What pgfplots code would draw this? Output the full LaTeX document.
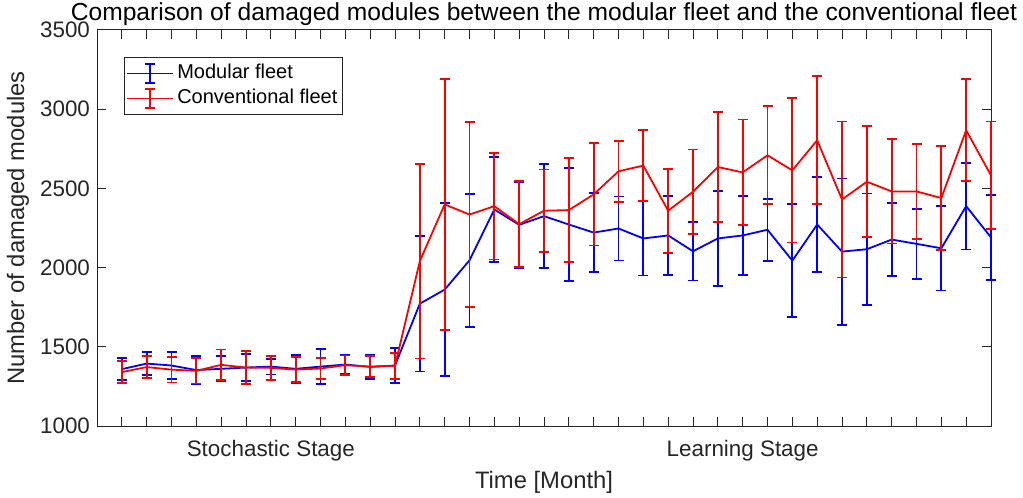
\documentclass[border=0pt]{standalone}
\usepackage{fontspec}
\setmainfont{Liberation Sans}
\usepackage{pgfplots}
\pgfplotsset{compat=1.18}
\usepackage{pgfplotstable}
\usetikzlibrary{calc}

\pgfplotstableread{
x y e
1 1359 68
2 1394 71
3 1382 86
4 1353 90
5 1361 80
6 1369 85
7 1375 50
8 1361 87
9 1375 112
10 1388 62
11 1373 78
12 1382 111
13 1772 428
14 1861 546
15 2046 421
16 2367 332
17 2270 271
18 2325 330
19 2272 357
20 2221 249
21 2247 202
22 2184 234
23 2203 250
24 2103 184
25 2184 302
26 2203 251
27 2239 195
28 2044 355
29 2272 298
30 2101 461
31 2116 352
32 2177 229
33 2150 222
34 2122 266
35 2388 274
36 2190 268
}\modular

\pgfplotstableread{
x y e
1 1340 69
2 1372 70
3 1356 81
4 1348 80
5 1386 97
6 1369 105
7 1367 76
8 1356 78
9 1363 67
10 1384 61
11 1375 67
12 1380 82
13 2040 614
14 2399 793
15 2335 584
16 2388 337
17 2274 272
18 2359 260
19 2363 328
20 2462 323
21 2608 193
22 2644 225
23 2359 265
24 2479 267
25 2635 348
26 2601 334
27 2709 310
28 2614 455
29 2804 405
30 2430 492
31 2542 350
32 2481 329
33 2481 298
34 2439 327
35 2867 322
36 2582 340
}\conventional

\definecolor{axgray}{gray}{0.15}

\begin{document}
\begin{tikzpicture}
\begin{axis}[
  name=ax,
  scale only axis,
  width=447pt, height=198pt,
  xmin=0, xmax=36, ymin=1000, ymax=3500,
  clip=false,
  xtick={1,...,35}, xticklabels={},
  extra x ticks={7,26},
  extra x tick labels={Stochastic Stage,Learning Stage},
  extra x tick style={major tick length=0pt, tick label style={yshift=-3.5pt}},
  ytick={1000,1500,...,3500},
  tick align=inside,
  major tick length=4.5pt,
  axis line style={draw=axgray, line width=0.5pt},
  every tick/.style={draw=axgray, line width=0.5pt},
  tick label style={font=\fontsize{11.2pt}{12.5pt}\selectfont, text=axgray},
  /pgf/number format/assume math mode=true,
  /pgf/number format/1000 sep={},
  xlabel={Time [Month]},
  ylabel={Number of damaged modules},
  label style={font=\fontsize{11.9pt}{13.5pt}\selectfont, text=axgray},
  xlabel style={at={(axis description cs:0.5,-0.1414)}, anchor=center},
  ylabel style={at={(axis description cs:-0.0884,0.5)}, anchor=center},
  every axis title shift=0pt,
  title={Comparison of damaged modules between the modular fleet and the conventional fleet},
  title style={at={(axis description cs:0.5,1.04)}, anchor=center, font=\fontsize{12.3pt}{14pt}\selectfont},
  legend style={at={(axis description cs:0.0302,0.932)}, anchor=north west,
    draw=axgray, line width=0.5pt, font=\fontsize{10pt}{12pt}\selectfont,
    inner xsep=1pt, inner ysep=1.75pt, row sep=0pt,
    nodes={inner xsep=1.5pt, inner ysep=1.5pt, text height=7.5pt, text depth=2pt}},
  legend cell align=left,
]
\addplot[blue, line width=0.9pt,
  legend image code/.code={
    \draw[blue, line width=0.9pt] (0pt,0pt) -- (23pt,0pt);
    \draw[blue, line width=0.9pt] (11.5pt,-4.75pt) -- (11.5pt,4.75pt);
    \draw[blue, line width=0.9pt] (9pt,-4.75pt) -- (14pt,-4.75pt) (9pt,4.75pt) -- (14pt,4.75pt);
  },
  error bars/.cd, y dir=both, y explicit,
  error bar style={line width=0.9pt, blue},
  error mark options={blue, line width=0.9pt, mark size=2.5pt, rotate=90}]
  table[x=x, y=y, y error=e] {\modular};
\addlegendentry{Modular fleet}
\addplot[red, line width=0.9pt,
  legend image code/.code={
    \draw[red, line width=0.9pt] (0pt,0pt) -- (23pt,0pt);
    \draw[red, line width=0.9pt] (11.5pt,-4.75pt) -- (11.5pt,4.75pt);
    \draw[red, line width=0.9pt] (9pt,-4.75pt) -- (14pt,-4.75pt) (9pt,4.75pt) -- (14pt,4.75pt);
  },
  error bars/.cd, y dir=both, y explicit,
  error bar style={line width=0.9pt, red},
  error mark options={red, line width=0.9pt, mark size=2.5pt, rotate=90}]
  table[x=x, y=y, y error=e] {\conventional};
\addlegendentry{Conventional fleet}
\end{axis}
\pgfresetboundingbox
\path[use as bounding box] ($(ax.south west)+(-48.5pt,-35.5pt)$) rectangle ($(ax.north east)+(16pt,15pt)$);
\end{tikzpicture}
\end{document}
